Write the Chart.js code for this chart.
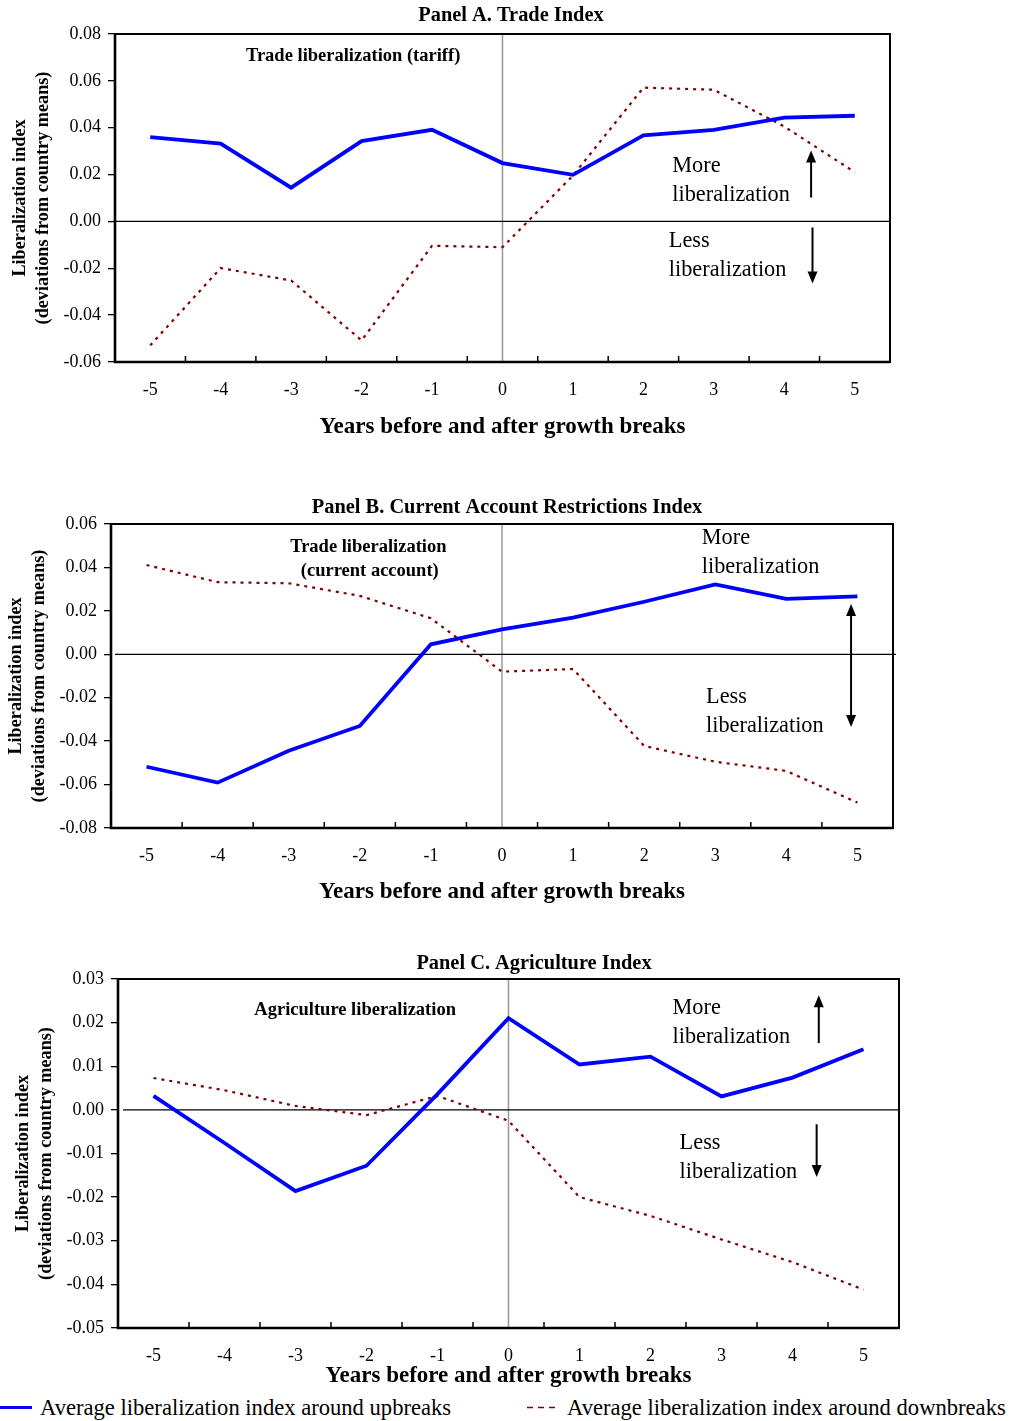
<!DOCTYPE html>
<html><head><meta charset="utf-8">
<script src="https://cdn.jsdelivr.net/npm/chart.js@4.4.1/dist/chart.umd.min.js"></script>
<style>
html,body{margin:0;padding:0;background:#fff;}
body{width:1012px;height:1421px;position:relative;overflow:hidden;font-family:"Liberation Serif","Times New Roman",serif;}
.pane{position:absolute;left:0;width:1012px;}
.pane canvas{display:block;}
#legend{position:absolute;left:0;top:1394px;width:1012px;height:27px;font-size:22.6px;line-height:27px;color:#000;}
#legend span{position:absolute;top:0;white-space:nowrap;}
</style></head><body>
<div class="pane" style="top:0;height:445px"><canvas id="cA" width="1012" height="445"></canvas></div>
<div class="pane" style="top:450px;height:460px"><canvas id="cB" width="1012" height="460"></canvas></div>
<div class="pane" style="top:915px;height:475px"><canvas id="cC" width="1012" height="475"></canvas></div>
<div id="legend">
 <svg style="position:absolute;left:0;top:0" width="1012" height="27">
   <line x1="0" y1="13.5" x2="32" y2="13.5" stroke="#0000FF" stroke-width="3"/>
   <line x1="527" y1="13.5" x2="558" y2="13.5" stroke="#800000" stroke-width="1.5" stroke-dasharray="6,5"/>
 </svg>
 <span style="left:40px">Average liberalization index around upbreaks</span>
 <span style="left:567px">Average liberalization index around downbreaks</span>
</div>
<script>
const years = ['-5','-4','-3','-2','-1','0','1','2','3','4','5'];
const tradeUp   = [0.0360, 0.0332, 0.0144, 0.0343, 0.0391, 0.0249, 0.0199, 0.0367, 0.0391, 0.0443, 0.0451];
const tradeDown = [-0.0529, -0.0199, -0.0252, -0.0508, -0.0104, -0.0110, 0.0196, 0.0571, 0.0562, 0.0405, 0.0210];
const caUp      = [-0.0518, -0.0591, -0.0444, -0.0330, 0.0046, 0.0115, 0.0169, 0.0242, 0.0322, 0.0255, 0.0267];
const caDown    = [0.0411, 0.0332, 0.0327, 0.0269, 0.0166, -0.0080, -0.0068, -0.0422, -0.0495, -0.0537, -0.0683];
const agUp      = [0.0032, -0.0076, -0.0186, -0.0128, 0.0036, 0.0210, 0.0104, 0.0122, 0.0031, 0.0074, 0.0139];
const agDown    = [0.0073, 0.0045, 0.0009, -0.0012, 0.0032, -0.0025, -0.0200, -0.0243, -0.0297, -0.0349, -0.0412];

const panelTitles = ['Panel A. Trade Index', 'Panel B. Current Account Restrictions Index', 'Panel C. Agriculture Index'];
const xTitle = 'Years before and after growth breaks';
const yTitle = ['Liberalization index', '(deviations from country means)'];
const upLabel = 'Average liberalization index around upbreaks';
const downLabel = 'Average liberalization index around downbreaks';

const F = '"Liberation Serif","Times New Roman",serif';

const deco = {
  id: 'deco',
  beforeDatasetsDraw(chart, args, o) {
    const {ctx, chartArea: a, scales: {x, y}} = chart;
    ctx.save();
    const x0 = x.getPixelForValue(years.indexOf('0'));
    ctx.strokeStyle = '#999'; ctx.lineWidth = 1.5;
    ctx.beginPath(); ctx.moveTo(x0, a.top); ctx.lineTo(x0, a.bottom); ctx.stroke();
    const y0 = y.getPixelForValue(0);
    ctx.strokeStyle = '#000'; ctx.lineWidth = 1.3;
    ctx.beginPath(); ctx.moveTo(a.left + (o.zeroStart || 0), y0); ctx.lineTo(a.right + (o.zeroExt || 0), y0); ctx.stroke();
    ctx.restore();
  },
  afterDatasetsDraw(chart, args, o) {
    const {ctx, chartArea: a, scales: {x, y}} = chart;
    ctx.save();
    ctx.strokeStyle = '#000'; ctx.lineWidth = 2;
    ctx.strokeRect(a.left, a.top, a.right - a.left, a.bottom - a.top);
    ctx.lineWidth = 2.6;
    ctx.beginPath(); ctx.moveTo(a.left, a.top); ctx.lineTo(a.left, a.bottom); ctx.lineTo(a.right, a.bottom); ctx.stroke();
    const half = (x.getPixelForValue(1) - x.getPixelForValue(0)) / 2;
    ctx.lineWidth = 1.5;
    for (let i = 0; i < years.length - 1; i++) {
      const px = x.getPixelForValue(i) + half;
      ctx.beginPath(); ctx.moveTo(px, a.bottom); ctx.lineTo(px, a.bottom - 6); ctx.stroke();
    }
    ctx.fillStyle = '#000';
    ctx.textBaseline = 'middle';
    for (const an of o.ann) {
      const px = x.getPixelForValue(an.xi);
      if (an.t === 'text') {
        ctx.font = an.font;
        ctx.textAlign = an.align;
        ctx.fillText(an.text, px, y.getPixelForValue(an.yv));
      } else {
        const p1 = y.getPixelForValue(an.y1), p2 = y.getPixelForValue(an.y2);
        const dir = Math.sign(p2 - p1);
        const hl = 12, hw = 5;
        ctx.lineWidth = 2; ctx.strokeStyle = '#000';
        ctx.beginPath();
        ctx.moveTo(px, p1 + (an.both ? dir * hl * 0.8 : 0));
        ctx.lineTo(px, p2 - dir * hl * 0.8);
        ctx.stroke();
        const head = (tip, d) => {
          ctx.beginPath(); ctx.moveTo(px, tip);
          ctx.lineTo(px - hw, tip - d * hl); ctx.lineTo(px + hw, tip - d * hl); ctx.closePath(); ctx.fill();
        };
        head(p2, dir);
        if (an.both) head(p1, -dir);
      }
    }
    ctx.font = 'bold 20.4px ' + F;
    ctx.textAlign = 'center';
    ctx.fillText(o.title, o.titleX, o.titleY);
    ctx.restore();
  }
};

function makeChart(id, up, down, yMin, yMax, step, g, ann, title) {
  return new Chart(document.getElementById(id), {
    type: 'line',
    data: {labels: years, datasets: [
      {label: upLabel, data: up, borderColor: '#0000FF', borderWidth: 3.8, pointRadius: 0, tension: 0, fill: false, borderJoinStyle: 'miter'},
      {label: downLabel, data: down, borderColor: '#800000', borderWidth: 2.2, borderDash: [3, 5], pointRadius: 0, tension: 0, fill: false}
    ]},
    options: {
      responsive: false, animation: false, devicePixelRatio: 1,
      layout: {padding: {left: 0, right: g.pr, top: g.top, bottom: 0}},
      plugins: {
        legend: {display: false}, tooltip: {enabled: false}, title: {display: false},
        deco: {ann: ann, title: title, titleX: g.tx, titleY: g.ty, zeroExt: g.zx, zeroStart: g.zs}
      },
      scales: {
        x: {
          type: 'category', offset: true,
          grid: {display: false, drawTicks: false}, border: {display: false},
          ticks: {padding: g.xtp, font: {family: F, size: 18}, color: '#000', maxRotation: 0, autoSkip: false},
          title: {display: true, text: xTitle, font: {family: F, size: 23, weight: 'bold'}, color: '#000', padding: {top: 0, bottom: g.xtb}},
          afterFit(s) { s.height = g.xh; }
        },
        y: {
          min: yMin, max: yMax,
          grid: {display: true, drawOnChartArea: false, drawTicks: true, tickLength: 7, color: '#000', lineWidth: 1.3},
          border: {display: false},
          ticks: {stepSize: step, padding: 7, font: {family: F, size: 18}, color: '#000',
                  callback: v => Math.abs(v) < 1e-9 ? '0.00' : v.toFixed(2)},
          title: {display: true, text: yTitle, font: {family: F, size: 18.2, weight: 'bold', lineHeight: 1.26}, color: '#000', padding: {top: g.ytp, bottom: 0}},
          afterFit(s) { s.width = g.L; }
        }
      }
    },
    plugins: [deco]
  });
}

const BF = 'bold 18.5px ' + F, NF = '22.3px ' + F;

makeChart('cA', tradeUp, tradeDown, -0.06, 0.08, 0.02,
  {L: 115, pr: 122, top: 34, xh: 83, xtp: 17, xtb: 4, ytp: 8.5, tx: 511, ty: 16, zx: 0, zs: 0},
  [
    {t: 'text', text: 'Trade liberalization (tariff)', xi: 2.88, yv: 0.0704, align: 'center', font: BF},
    {t: 'text', text: 'More', xi: 7.41, yv: 0.0235, align: 'left', font: NF},
    {t: 'text', text: 'liberalization', xi: 7.41, yv: 0.0111, align: 'left', font: NF},
    {t: 'arrow', xi: 9.38, y1: 0.0102, y2: 0.0303},
    {t: 'text', text: 'Less', xi: 7.36, yv: -0.0085, align: 'left', font: NF},
    {t: 'text', text: 'liberalization', xi: 7.36, yv: -0.0209, align: 'left', font: NF},
    {t: 'arrow', xi: 9.40, y1: -0.0026, y2: -0.0265}
  ], panelTitles[0]);

makeChart('cB', caUp, caDown, -0.08, 0.06, 0.02,
  {L: 111, pr: 119, top: 74, xh: 82, xtp: 17, xtb: 4, ytp: 5, tx: 507, ty: 58, zx: 3, zs: 4},
  [
    {t: 'text', text: 'Trade liberalization', xi: 3.12, yv: 0.0494, align: 'center', font: BF},
    {t: 'text', text: '(current account)', xi: 3.14, yv: 0.0384, align: 'center', font: BF},
    {t: 'text', text: 'More', xi: 7.81, yv: 0.0536, align: 'left', font: NF},
    {t: 'text', text: 'liberalization', xi: 7.81, yv: 0.0402, align: 'left', font: NF},
    {t: 'arrow', xi: 9.91, y1: 0.0232, y2: -0.0335, both: true},
    {t: 'text', text: 'Less', xi: 7.87, yv: -0.0197, align: 'left', font: NF},
    {t: 'text', text: 'liberalization', xi: 7.87, yv: -0.0330, align: 'left', font: NF}
  ], panelTitles[1]);

makeChart('cC', agUp, agDown, -0.05, 0.03, 0.01,
  {L: 118, pr: 113, top: 64, xh: 62, xtp: 17, xtb: 0, ytp: 12, tx: 534, ty: 49, zx: 0, zs: 5},
  [
    {t: 'text', text: 'Agriculture liberalization', xi: 2.84, yv: 0.0229, align: 'center', font: BF},
    {t: 'text', text: 'More', xi: 7.31, yv: 0.0233, align: 'left', font: NF},
    {t: 'text', text: 'liberalization', xi: 7.31, yv: 0.0167, align: 'left', font: NF},
    {t: 'arrow', xi: 9.37, y1: 0.0153, y2: 0.0263},
    {t: 'text', text: 'Less', xi: 7.41, yv: -0.0076, align: 'left', font: NF},
    {t: 'text', text: 'liberalization', xi: 7.41, yv: -0.0143, align: 'left', font: NF},
    {t: 'arrow', xi: 9.34, y1: -0.0033, y2: -0.0154}
  ], panelTitles[2]);
</script>
</body></html>
